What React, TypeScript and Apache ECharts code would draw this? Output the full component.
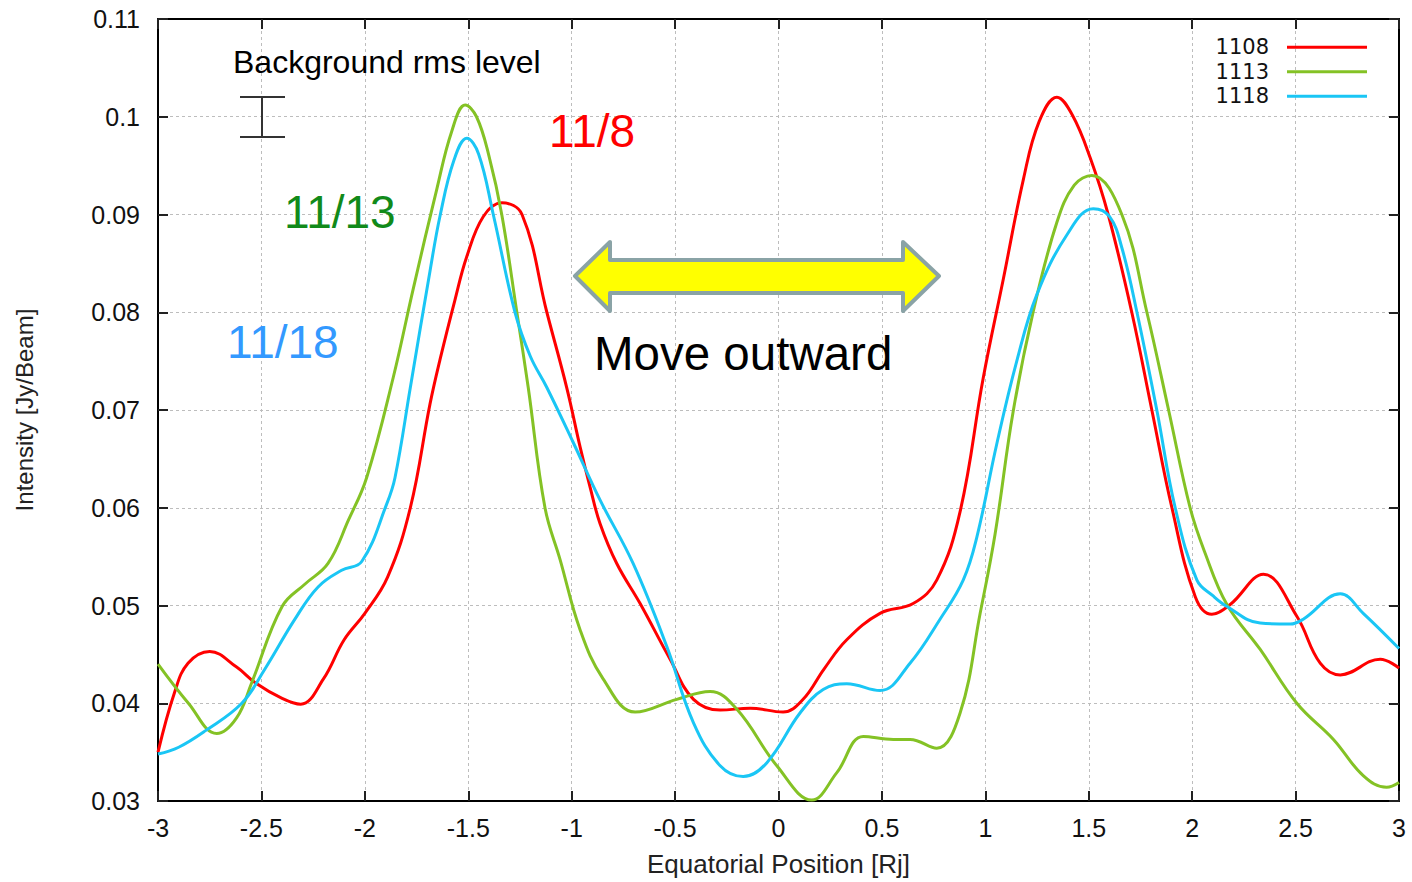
import React, { useEffect, useRef } from "react";
import * as echarts from "echarts";

const seriesNames = ["1108", "1113", "1118"];
const seriesColors = ["#ff0000", "#84c225", "#1ac6f5"];

const xTicks = { min: -3, max: 3, interval: 0.5 };
const yTicks = { min: 0.03, max: 0.11, interval: 0.01 };

const data1108: [number, number][] = [
  [-3.0, 0.035], [-2.92, 0.0411], [-2.855, 0.0441], [-2.75, 0.0453], [-2.62, 0.0437],
  [-2.53, 0.0421], [-2.4, 0.0405], [-2.31, 0.0399], [-2.2, 0.0425], [-2.1, 0.0465],
  [-2.0, 0.0492], [-1.89, 0.0529], [-1.78, 0.06], [-1.685, 0.0706], [-1.636, 0.0752],
  [-1.565, 0.0812], [-1.507, 0.0857], [-1.427, 0.0898], [-1.338, 0.0912], [-1.24, 0.09],
  [-1.12, 0.08], [-1.024, 0.0723], [-0.959, 0.0662], [-0.911, 0.0621], [-0.863, 0.0584],
  [-0.782, 0.0543], [-0.669, 0.0502], [-0.524, 0.0445], [-0.411, 0.0404], [-0.282, 0.0393],
  [-0.137, 0.0395], [0.022, 0.0391], [0.119, 0.0404], [0.22, 0.0435], [0.33, 0.0465],
  [0.491, 0.0492], [0.651, 0.0502], [0.765, 0.0526], [0.878, 0.0596], [0.99, 0.0733],
  [1.087, 0.0834], [1.184, 0.0936], [1.26, 0.0995], [1.346, 0.102], [1.42, 0.1002],
  [1.507, 0.0958], [1.594, 0.09], [1.708, 0.08], [1.805, 0.07], [1.902, 0.06],
  [2.015, 0.0509], [2.095, 0.0491], [2.184, 0.0501], [2.345, 0.0532], [2.506, 0.0489],
  [2.619, 0.0441], [2.716, 0.0429], [2.909, 0.0445], [3.0, 0.0436],
];

const data1113: [number, number][] = [
  [-3.0, 0.044], [-2.853, 0.04], [-2.716, 0.0369], [-2.62, 0.0385], [-2.547, 0.0421],
  [-2.4, 0.0499], [-2.289, 0.0522], [-2.178, 0.0543], [-2.08, 0.0587], [-1.991, 0.0631],
  [-1.863, 0.0733], [-1.766, 0.0824], [-1.652, 0.0926], [-1.58, 0.0985], [-1.515, 0.1012],
  [-1.46, 0.1], [-1.4, 0.096], [-1.338, 0.09], [-1.265, 0.08], [-1.21, 0.0723],
  [-1.129, 0.06], [-1.056, 0.0547], [-0.959, 0.0475], [-0.848, 0.0425], [-0.693, 0.0391],
  [-0.492, 0.0404], [-0.331, 0.0412], [-0.202, 0.0394], [-0.008, 0.0336], [0.161, 0.0301],
  [0.282, 0.0329], [0.41, 0.0366], [0.555, 0.0363], [0.636, 0.0363], [0.765, 0.0354],
  [0.878, 0.039], [0.975, 0.0492], [1.047, 0.0573], [1.135, 0.0699], [1.232, 0.0801],
  [1.346, 0.0892], [1.43, 0.093], [1.515, 0.094], [1.66, 0.09], [1.781, 0.08],
  [1.886, 0.07], [1.99, 0.06], [2.06, 0.0555], [2.168, 0.0501], [2.329, 0.0455],
  [2.506, 0.04], [2.683, 0.0363], [2.827, 0.0326], [2.94, 0.0314], [3.0, 0.0319],
];

const data1118: [number, number][] = [
  [-3.0, 0.0348], [-2.9, 0.0355], [-2.77, 0.0372], [-2.595, 0.04], [-2.483, 0.0435],
  [-2.338, 0.0486], [-2.226, 0.0519], [-2.112, 0.0536], [-2.015, 0.0545], [-1.894, 0.0604],
  [-1.854, 0.0631], [-1.78, 0.0723], [-1.685, 0.0842], [-1.636, 0.0899], [-1.57, 0.0955],
  [-1.507, 0.0978], [-1.45, 0.0962], [-1.379, 0.09], [-1.274, 0.08], [-1.2, 0.0755],
  [-1.12, 0.0723], [-0.993, 0.0667], [-0.863, 0.0608], [-0.703, 0.0543], [-0.54, 0.0458],
  [-0.411, 0.038], [-0.282, 0.0336], [-0.171, 0.0325], [-0.057, 0.0339], [0.104, 0.039],
  [0.216, 0.0414], [0.33, 0.042], [0.491, 0.0413], [0.636, 0.0441], [0.781, 0.0486],
  [0.893, 0.0526], [0.959, 0.057], [1.055, 0.0665], [1.152, 0.075], [1.249, 0.0818],
  [1.394, 0.0879], [1.522, 0.0906], [1.6, 0.0898], [1.66, 0.0866], [1.733, 0.08],
  [1.829, 0.07], [1.918, 0.06], [2.023, 0.0526], [2.1, 0.051], [2.168, 0.0499],
  [2.329, 0.0482], [2.474, 0.0481], [2.537, 0.0486], [2.716, 0.0512], [2.827, 0.0492],
  [3.0, 0.0456],
];

const allData = [data1108, data1113, data1118];

const annotations = [
  { text: "Background rms level", x: 233, y: 63, size: 32, color: "#000" },
  { text: "11/8", x: 549, y: 132, size: 46, color: "#ff0000" },
  { text: "11/13", x: 284, y: 213, size: 46, color: "#118a1a" },
  { text: "11/18", x: 227, y: 343, size: 46, color: "#3399ff" },
  { text: "Move outward", x: 594, y: 354, size: 47.5, color: "#000" },
];

const FONT = "'Liberation Sans', Arial, sans-serif";

export default function App() {
  const ref = useRef<HTMLDivElement>(null);
  useEffect(() => {
    if (!ref.current) return;
    const chart = echarts.init(ref.current, undefined, { renderer: "svg" });
    const axisLineStyle = { color: "#000", width: 2 };
    const tick = { show: true, inside: true, length: 10, lineStyle: { color: "#222", width: 2 } };
    const split = { show: true, lineStyle: { color: "#bdbdbd", width: 1, type: [3, 3] } };
    chart.setOption({
      animation: false,
      backgroundColor: "#fff",
      grid: { left: 158, right: 13, top: 19, bottom: 76, containLabel: false },
      legend: {
        data: seriesNames,
        orient: "vertical",
        right: 40,
        top: 30,
        align: "right",
        icon: "rect",
        itemWidth: 80,
        itemHeight: 3,
        itemGap: 0,
        textStyle: {
          fontFamily: "'DejaVu Sans', sans-serif",
          fontSize: 21,
          color: "#111",
          lineHeight: 24.5,
          padding: [0, 13, 0, 0],
        },
      },
      xAxis: [
        {
          type: "value",
          ...xTicks,
          name: "Equatorial Position [Rj]",
          nameLocation: "middle",
          nameGap: 50,
          nameTextStyle: { fontFamily: FONT, fontSize: 26, color: "#222" },
          axisLine: { show: true, onZero: false, lineStyle: axisLineStyle },
          axisTick: tick,
          axisLabel: { fontFamily: FONT, fontSize: 25, color: "#111", margin: 14 },
          splitLine: split,
        },
        {
          type: "value",
          position: "top",
          ...xTicks,
          axisLine: { show: true, onZero: false, lineStyle: axisLineStyle },
          axisTick: tick,
          axisLabel: { show: false },
          splitLine: { show: false },
        },
      ],
      yAxis: [
        {
          type: "value",
          ...yTicks,
          name: "Intensity [Jy/Beam]",
          nameLocation: "middle",
          nameGap: 122,
          nameTextStyle: { fontFamily: FONT, fontSize: 24, color: "#222" },
          axisLine: { show: true, onZero: false, lineStyle: axisLineStyle },
          axisTick: tick,
          axisLabel: { fontFamily: FONT, fontSize: 25, color: "#111", margin: 18 },
          splitLine: split,
        },
        {
          type: "value",
          position: "right",
          ...yTicks,
          axisLine: { show: true, onZero: false, lineStyle: axisLineStyle },
          axisTick: tick,
          axisLabel: { show: false },
          splitLine: { show: false },
        },
      ],
      series: seriesNames.map((name, i) => ({
        name,
        type: "line",
        xAxisIndex: 0,
        yAxisIndex: 0,
        data: allData[i],
        smooth: 0.4,
        showSymbol: false,
        symbol: "none",
        lineStyle: { color: seriesColors[i], width: 3 },
        itemStyle: { color: seriesColors[i] },
        z: 3,
      })),
      graphic: [
        ...annotations.map((a) => ({
          type: "text",
          left: a.x,
          top: a.y - a.size * 0.52,
          z: 10,
          style: { text: a.text, font: `${a.size}px ${FONT}`, fill: a.color },
        })),
        {
          type: "polygon",
          z: 10,
          shape: {
            points: [
              [575, 276], [610, 242], [610, 260], [903, 260], [903, 242], [939, 276],
              [903, 311], [903, 293], [610, 293], [610, 311],
            ],
          },
          style: { fill: "#ffff00", stroke: "#8aa3a6", lineWidth: 4, lineJoin: "round" },
        },
        { type: "line", z: 10, shape: { x1: 262, y1: 97, x2: 262, y2: 137 }, style: { stroke: "#333", lineWidth: 2 } },
        { type: "line", z: 10, shape: { x1: 240, y1: 97, x2: 285, y2: 97 }, style: { stroke: "#333", lineWidth: 2 } },
        { type: "line", z: 10, shape: { x1: 240, y1: 137, x2: 285, y2: 137 }, style: { stroke: "#333", lineWidth: 2 } },
      ],
    });
    return () => chart.dispose();
  }, []);
  return <div ref={ref} style={{ position: "fixed", left: 0, top: 0, width: 1412, height: 882 }} />;
}
